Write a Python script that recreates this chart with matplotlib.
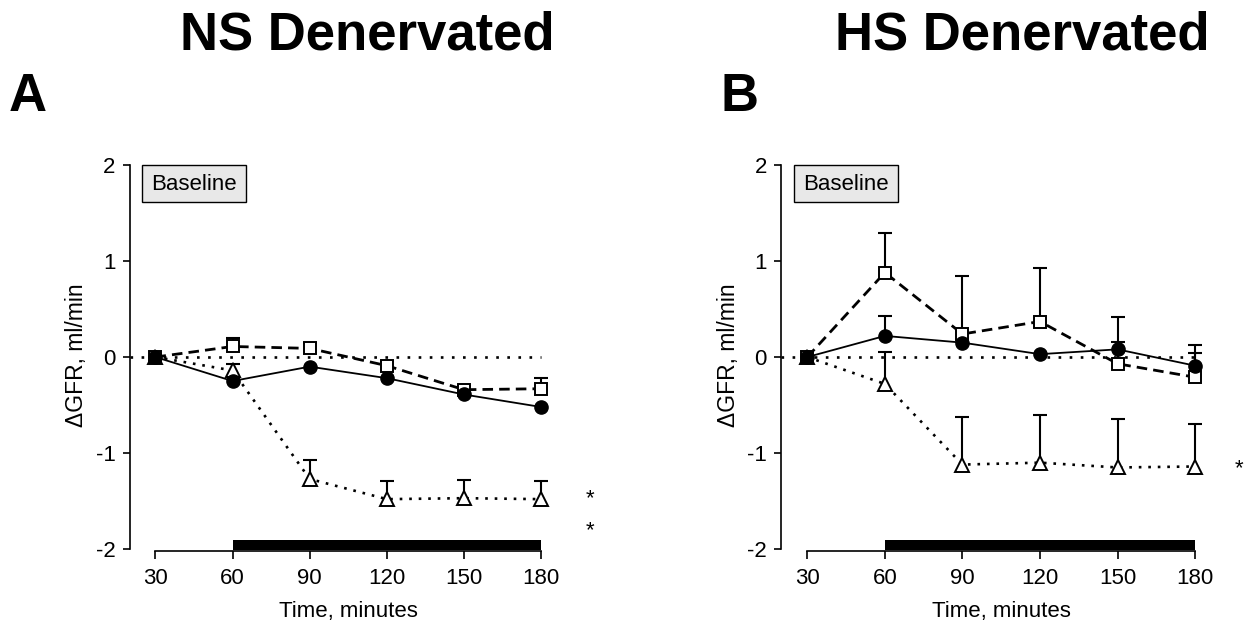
import matplotlib
matplotlib.use('Agg')
import matplotlib.pyplot as plt
from matplotlib.patches import Rectangle
import numpy as np

plt.rcParams['font.family'] = ['Liberation Sans', 'DejaVu Sans']
plt.rcParams['axes.unicode_minus'] = False

# ---------------- data ----------------
time = [30, 60, 90, 120, 150, 180]
xticks = [30, 60, 90, 120, 150, 180]
yticks = [-2, -1, 0, 1, 2]

# Panel A: NS Denervated
a_circle = [0.0, -0.25, -0.10, -0.22, -0.39, -0.52]
a_circle_err = [0.0, 0.0, 0.0, 0.0, 0.0, 0.0]
a_square = [0.0, 0.11, 0.09, -0.09, -0.34, -0.33]
a_square_err = [0.0, 0.09, 0.06, 0.05, 0.04, 0.11]
a_triangle = [0.0, -0.14, -1.27, -1.48, -1.47, -1.48]
a_triangle_err = [0.0, 0.07, 0.20, 0.19, 0.19, 0.19]

# Panel B: HS Denervated
b_circle = [0.0, 0.22, 0.15, 0.03, 0.08, -0.09]
b_circle_err = [0.0, 0.21, 0.0, 0.0, 0.08, 0.13]
b_square = [0.0, 0.88, 0.24, 0.37, -0.07, -0.21]
b_square_err = [0.0, 0.41, 0.60, 0.56, 0.49, 0.34]
b_triangle = [0.0, -0.28, -1.12, -1.10, -1.15, -1.14]
b_triangle_err = [0.0, 0.33, 0.50, 0.50, 0.50, 0.44]

titles = ['NS Denervated', 'HS Denervated']
letters = ['A', 'B']
ylabel = 'ΔGFR, ml/min'
xlabel = 'Time, minutes'
box_text = 'Baseline'
a_stars_y = [-1.48, -1.81]
b_stars_y = [-1.16]

W, H = 1248, 630
fig = plt.figure(figsize=(W / 100, H / 100), dpi=100)


def fx(px):
    return px / W


def fy(py):
    return 1 - py / H


def upper_err(ax, vals, errs, z):
    t = np.array(time, dtype=float)
    v = np.array(vals, dtype=float)
    e = np.array(errs, dtype=float)
    m = e > 0
    ax.vlines(t[m], v[m], v[m] + e[m], colors='black', lw=1.5, zorder=z)
    ax.plot(t[m], v[m] + e[m], ls='none', marker='_', ms=10.5, mew=1.5,
            color='black', zorder=z)


def panel(ax, xmin, circ, circ_err, sq, sq_err, tri, tri_err, stars_y, star_x):
    ax.set_xlim(xmin, 190)
    ax.set_ylim(-2.02, 2.0)
    ax.plot([xmin, 180], [0, 0], ls=(0, (1, 3.2)), color='black', lw=1.9, zorder=1)
    ax.add_patch(Rectangle((60, -2.01), 120, 0.10, color='black', zorder=2,
                           clip_on=False, lw=0))
    # triangles (dotted)
    upper_err(ax, tri, tri_err, 3)
    ax.plot(time, tri, ls=(0, (1, 2.6)), lw=1.9, color='black', marker='^', ms=10.5,
            mfc='white', mec='black', mew=1.4, zorder=4)
    # squares (dashed)
    upper_err(ax, sq, sq_err, 5)
    ax.plot(time, sq, ls=(0, (3.8, 2.2)), lw=2.0, color='black', marker='s', ms=9.3,
            mfc='white', mec='black', mew=1.4, zorder=6)
    # circles (solid)
    upper_err(ax, circ, circ_err, 7)
    ax.plot(time, circ, ls='-', lw=1.3, color='black', marker='o', ms=9.5,
            mfc='black', mec='black', zorder=8)

    for s in ['top', 'right']:
        ax.spines[s].set_visible(False)
    ax.spines['left'].set_bounds(-2, 2)
    ax.spines['bottom'].set_bounds(30, 180)
    for s in ['left', 'bottom']:
        ax.spines[s].set_linewidth(1.2)
    ax.set_xticks(xticks)
    ax.set_yticks(yticks)
    ax.tick_params(axis='y', direction='out', length=5, width=1.2, labelsize=16, pad=5)
    ax.tick_params(axis='x', direction='out', length=5.5, width=1.2, labelsize=16, pad=7)
    for y in stars_y:
        ax.text(star_x, y, '*', fontsize=16, ha='center', va='center', clip_on=False)


# Panel A
axA = fig.add_axes([fx(129.5), fy(551), (566.7 - 129.5) / W, 386 / H])
panel(axA, 19.9, a_circle, a_circle_err, a_square, a_square_err,
      a_triangle, a_triangle_err, a_stars_y, 199)

# Panel B
axB = fig.add_axes([fx(780.7), fy(551), (1220.9 - 780.7) / W, 386 / H])
panel(axB, 19.7, b_circle, b_circle_err, b_square, b_square_err,
      b_triangle, b_triangle_err, b_stars_y, 197)

# Titles and letters
fig.text(fx(367), fy(49), titles[0], fontsize=38, fontweight='bold', ha='center', va='baseline')
fig.text(fx(1022), fy(49), titles[1], fontsize=38, fontweight='bold', ha='center', va='baseline')
fig.text(fx(9), fy(111), letters[0], fontsize=38, fontweight='bold', ha='left', va='baseline')
fig.text(fx(721), fy(111), letters[1], fontsize=38, fontweight='bold', ha='left', va='baseline')

# Axis labels
for xc in [76, 728]:
    fig.text(fx(xc), fy(355), ylabel, fontsize=16.5, rotation=90, ha='center', va='center')
fig.text(fx(348.5), fy(612), xlabel, fontsize=16, ha='center', va='center')
fig.text(fx(1001), fy(612), xlabel, fontsize=16, ha='center', va='center')

# Baseline boxes
for left in [142, 794]:
    fig.patches.append(Rectangle((fx(left), fy(202)), 104 / W, 37 / H,
                                 transform=fig.transFigure, fc='#e8e8e8', ec='black',
                                 lw=1.0, zorder=5))
    fig.text(fx(left + 52), fy(184), box_text, fontsize=16, ha='center', va='center', zorder=6)

fig.savefig('out.png', dpi=100, facecolor='white')
